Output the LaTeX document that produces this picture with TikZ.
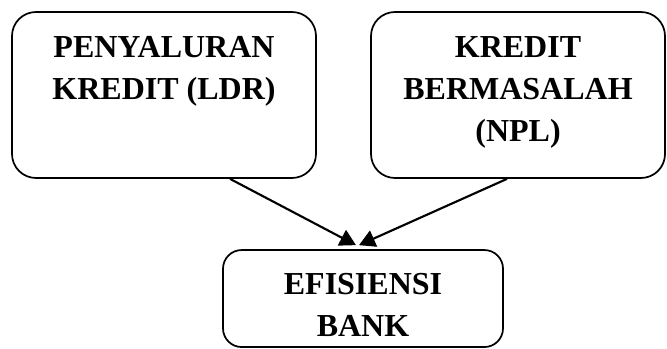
\documentclass[tikz,border=0pt]{standalone}
\usepackage{fontspec}
\setmainfont{Liberation Serif}
\usetikzlibrary{arrows.meta}

\begin{document}
\begin{tikzpicture}[
  box/.style={draw, line width=1.3pt, rounded corners=18pt},
  title/.style={anchor=north, align=center, yshift=-15.5pt,
    font=\fontsize{24}{31.5}\selectfont\bfseries},
  arr/.style={line width=1.6pt, -{Triangle[length=12pt, width=13pt]}}]

  \useasboundingbox (0,0) rectangle (500.25pt,-261.75pt);

  \draw[]
   (123pt,-71.25pt) node[box, minimum width=228pt, minimum height=124.5pt,
     label={[title]north:PENYALURAN\\KREDIT (LDR)}] (ldr) {}
   (388.5pt,-71.25pt) node[box, minimum width=220.5pt, minimum height=124.5pt,
     label={[title]north:KREDIT\\BERMASALAH\\(NPL)}] (npl) {}
   (272.25pt,-223.9pt) node[box, rounded corners=14pt, minimum width=210pt,
     minimum height=72.75pt,
     label={[title, yshift=1pt]north:EFISIENSI\\BANK}] (bank) {};

  %arrows to the bottom box
  \draw[arr] ([xshift=49.5pt]ldr.south) -- ([xshift=-5.25pt, yshift=3pt]bank.north);
  \draw[arr] ([xshift=-8.25pt]npl.south) -- ([xshift=-3pt, yshift=3pt]bank.north);
\end{tikzpicture}
\end{document}
